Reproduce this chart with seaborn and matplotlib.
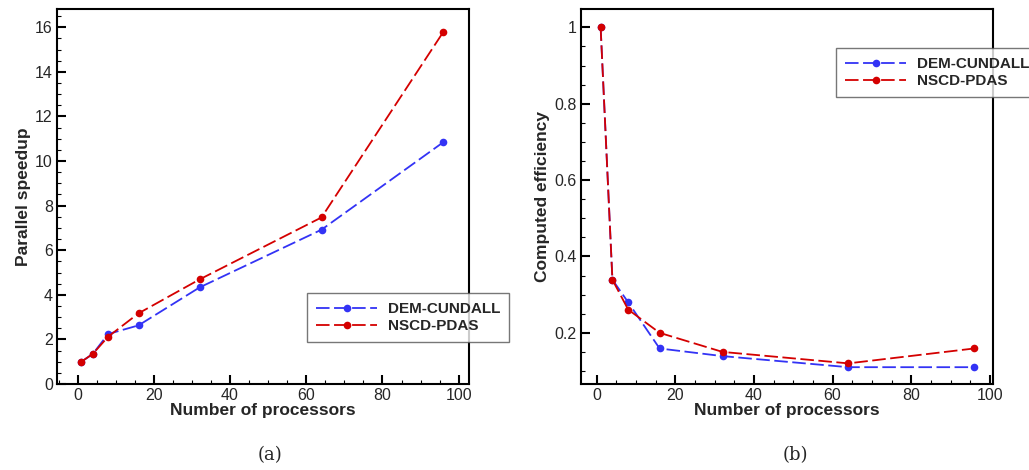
import pandas as pd
import matplotlib
matplotlib.use("Agg")
import matplotlib.pyplot as plt
from matplotlib.ticker import MultipleLocator
import seaborn as sns

# data
processors = [1, 4, 8, 16, 32, 64, 96]
speedup_dem = [1.0, 1.35, 2.24, 2.63, 4.33, 6.92, 10.85]
speedup_nscd = [1.0, 1.35, 2.12, 3.17, 4.69, 7.47, 15.8]
eff_dem = [1.0, 0.339, 0.28, 0.159, 0.139, 0.110, 0.110]
eff_nscd = [1.0, 0.339, 0.261, 0.20, 0.150, 0.120, 0.159]
methods = ["DEM-CUNDALL", "NSCD-PDAS"]

sns.set_style("ticks")
plt.rcParams["font.family"] = ["Liberation Sans", "DejaVu Sans"]

colors = {"DEM-CUNDALL": "#3333f5", "NSCD-PDAS": "#d40000"}
dashes = {"DEM-CUNDALL": (7.5, 2.5), "NSCD-PDAS": (7.5, 2.5)}
markers = {"DEM-CUNDALL": "o", "NSCD-PDAS": "o"}

n = len(processors)
df = pd.DataFrame({
    "n": processors * 2,
    "speedup": speedup_dem + speedup_nscd,
    "eff": eff_dem + eff_nscd,
    "method": [methods[0]] * n + [methods[1]] * n,
})

fig = plt.figure(figsize=(10.29, 4.70), dpi=100)
ax1 = fig.add_axes([0.0554, 0.183, 0.4004, 0.797])
ax2 = fig.add_axes([0.5646, 0.183, 0.4004, 0.797])


def panel(ax, ycol, ylabel, xlim, ylim, ymajor, yminor, leg_pos):
    sns.lineplot(data=df, x="n", y=ycol, hue="method", style="method",
                 palette=colors, dashes=dashes, markers=markers, ax=ax,
                 linewidth=1.3, markersize=5.5, markeredgewidth=0)
    ax.set_xlim(*xlim)
    ax.set_ylim(*ylim)
    ax.xaxis.set_major_locator(MultipleLocator(20))
    ax.xaxis.set_minor_locator(MultipleLocator(5))
    ax.yaxis.set_major_locator(MultipleLocator(ymajor))
    ax.yaxis.set_minor_locator(MultipleLocator(yminor))
    ax.tick_params(which="both", direction="in", top=False, right=False,
                   labelsize=11.5, color="black", pad=3)
    ax.tick_params(which="major", length=6.5, width=1.5)
    ax.tick_params(which="minor", length=3, width=0.8)
    for s in ax.spines.values():
        s.set_visible(True)
        s.set_linewidth(1.5)
        s.set_color("black")
    ax.set_xlabel("Number of processors", fontsize=12.5, fontweight="bold",
                  labelpad=0)
    ax.set_ylabel(ylabel, fontsize=12.5, fontweight="bold", labelpad=3)
    handles, labels = ax.get_legend_handles_labels()
    leg = ax.legend(handles, labels, loc="upper left", bbox_to_anchor=leg_pos,
                    bbox_transform=fig.transFigure, borderaxespad=0,
                    fancybox=False, frameon=True, handlelength=4.0,
                    prop={"weight": "bold", "size": 11}, labelspacing=0.2,
                    handletextpad=0.7, borderpad=0.6)
    leg.get_frame().set_edgecolor("#555555")
    leg.get_frame().set_linewidth(1.0)
    leg.set_zorder(10)


panel(ax1, "speedup", "Parallel speedup", (-5.4, 102.7), (0, 16.8), 2, 0.5,
      (0.2983, 0.3766))
panel(ax2, "eff", "Computed efficiency", (-4.0, 100.8), (0.066, 1.047),
      0.2, 0.05, (0.8124, 0.898))
ax2.yaxis.set_major_formatter(plt.FuncFormatter(lambda v, p: f"{v:g}"))

fig.text(0.262, 0.022, "(a)", fontsize=13, family="DejaVu Serif",
         ha="center")
fig.text(0.773, 0.022, "(b)", fontsize=13, family="DejaVu Serif",
         ha="center")

fig.savefig("out.png", dpi=100)
